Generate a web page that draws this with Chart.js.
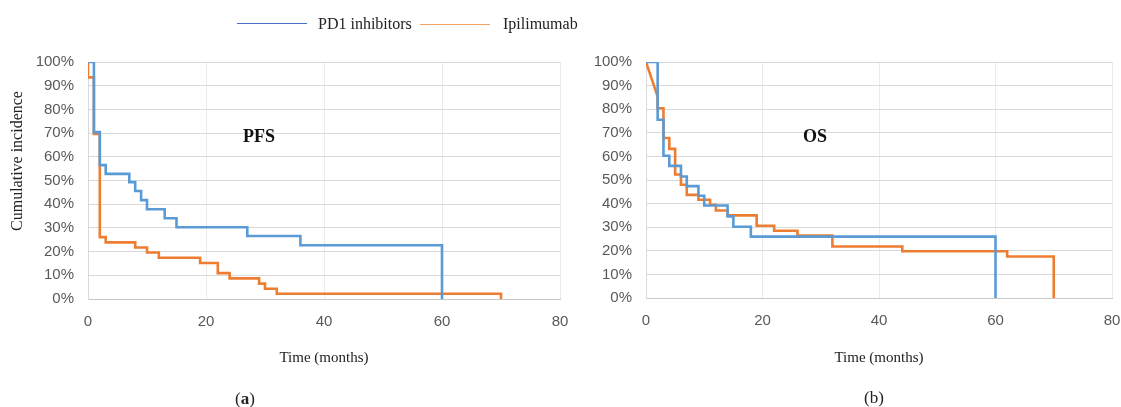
<!DOCTYPE html>
<html>
<head>
<meta charset="utf-8">
<script src="https://cdn.jsdelivr.net/npm/chart.js@4.4.1/dist/chart.umd.min.js"></script>
<style>
  body { margin: 0; background: #fff; }
  #wrap { position: relative; width: 1121px; height: 407px; overflow: hidden; font-family: 'Liberation Serif', serif; color: #222; }
  canvas { position: absolute; top: 0; }
  .txt { position: absolute; white-space: nowrap; line-height: 1; }
  .key { position: absolute; height: 0; }
</style>
</head>
<body>
<div id="wrap">
  <canvas id="pfs" width="580" height="407" style="left:0;width:580px;height:407px"></canvas>
  <canvas id="os" width="546" height="407" style="left:575px;width:546px;height:407px"></canvas>

  <div class="key" style="left:237px;top:23px;width:70px;border-top:1.5px solid #4472C4"></div>
  <div class="txt" style="left:318px;top:16px;font-size:16px">PD1 inhibitors</div>
  <div class="key" style="left:420px;top:24px;width:70px;border-top:1.5px solid #F4A261"></div>
  <div class="txt" style="left:503px;top:16px;font-size:16px">Ipilimumab</div>

  <div class="txt" style="left:235px;top:390px;font-size:17px">(<b>a</b>)</div>
  <div class="txt" style="left:864px;top:389px;font-size:17px">(b)</div>
</div>
<script>
// months / percent
const pfsPd1Time = [0, 1, 2, 3, 7, 8, 9, 10, 13, 15, 27, 36, 60];
const pfsPd1Val  = [100, 70.4, 56.5, 52.8, 49.3, 45.6, 41.7, 37.9, 34.1, 30.3, 26.6, 22.7, 0];

const pfsIpiTime = [0, 0, 1, 2, 3, 8, 10, 12, 19, 22, 24, 29, 30, 32, 70];
const pfsIpiVal  = [100, 93.5, 69.6, 26.1, 23.9, 21.7, 19.6, 17.4, 15.2, 10.9, 8.7, 6.5, 4.3, 2.2, 0];

const osPd1Time = [0, 2, 3, 4, 6, 7, 9, 10, 14, 15, 18, 60];
const osPd1Val  = [100, 75.5, 60.3, 56, 51.5, 47.4, 43.3, 39.2, 34.6, 30.2, 26, 0];

// first two points of ipilimumab OS are joined by a straight line
const osIpiTime = [0, 2, 2, 3, 4, 5, 6, 7, 9, 11, 12, 14, 19, 22, 26, 32, 44, 62, 70];
const osIpiVal  = [100, 85.3, 80.4, 67.8, 63.2, 52.3, 48, 43.7, 41.6, 39.5, 37.1, 35, 30.6, 28.5, 26.5, 21.8, 19.8, 17.6, 0];

const xTicks = [0, 20, 40, 60, 80];
const yTicks = [0, 10, 20, 30, 40, 50, 60, 70, 80, 90, 100];

const BLUE = '#5B9BD5';
const ORANGE = '#ED7D31';

function pts(t, v) {
  return t.map((x, i) => ({ x: x, y: v[i] }));
}

function line(data, color, stepped) {
  return {
    data: data,
    borderColor: color,
    backgroundColor: color,
    borderWidth: 2.6,
    pointRadius: 0,
    stepped: stepped,
    fill: false
  };
}

// text drawn on the canvas: panel label and y title
const notes = {
  id: 'notes',
  afterDraw(chart, args, opts) {
    const ctx = chart.ctx;
    const xs = chart.scales.x, ys = chart.scales.y;
    ctx.save();
    ctx.fillStyle = '#111';
    ctx.font = 'bold 18px "Liberation Serif"';
    ctx.textAlign = 'center';
    ctx.textBaseline = 'middle';
    ctx.fillText(opts.label, xs.getPixelForValue(opts.at[0]), ys.getPixelForValue(opts.at[1]));
    if (opts.yTitle) {
      ctx.translate(18, 161);
      ctx.rotate(-Math.PI / 2);
      ctx.font = '16px "Liberation Serif"';
      ctx.fillStyle = '#222';
      ctx.fillText(opts.yTitle, 0, 0);
    }
    ctx.restore();
  }
};

function makeChart(id, datasets, label, yTitle, yWidth, xHeight, padRight) {
  return new Chart(document.getElementById(id), {
    type: 'line',
    data: { datasets: datasets },
    plugins: [notes],
    options: {
      responsive: false,
      animation: false,
      layout: { padding: { top: 62, right: padRight, left: 0, bottom: 0 } },
      plugins: {
        legend: { display: false },
        tooltip: { enabled: false },
        notes: { label: label, at: [29, 68], yTitle: yTitle }
      },
      scales: {
        x: {
          type: 'linear',
          min: 0, max: 80,
          afterBuildTicks: s => { s.ticks = xTicks.map(v => ({ value: v })); },
          afterFit: s => { s.height = xHeight; s.paddingLeft = 0; s.paddingRight = 0; },
          grid: { color: '#ebebeb', drawTicks: false },
          border: { color: '#c8c8c8' },
          ticks: { color: '#595959', font: { family: 'Liberation Sans', size: 15 }, padding: 14, maxRotation: 0 },
          title: {
            display: true, text: 'Time (months)', color: '#222',
            font: { family: 'Liberation Serif', size: 15 },
            padding: { bottom: 40 }
          }
        },
        y: {
          min: 0, max: 100,
          afterBuildTicks: s => { s.ticks = yTicks.map(v => ({ value: v })); },
          afterFit: s => { s.width = yWidth; },
          grid: { color: '#d9d9d9', drawTicks: false },
          border: { color: '#d9d9d9' },
          ticks: { color: '#595959', font: { family: 'Liberation Sans', size: 15 }, padding: 14, callback: v => v + '%' }
        }
      }
    }
  });
}

makeChart('pfs', [
  line(pts(pfsPd1Time, pfsPd1Val), BLUE, true),
  line(pts(pfsIpiTime, pfsIpiVal), ORANGE, true)
], 'PFS', 'Cumulative incidence', 88, 108, 20);

makeChart('os', [
  line(pts(osPd1Time, osPd1Val), BLUE, true),
  line(pts(osIpiTime.slice(0, 2), osIpiVal.slice(0, 2)), ORANGE, false),
  line(pts(osIpiTime.slice(1), osIpiVal.slice(1)), ORANGE, true)
], 'OS', null, 71, 109, 9);
</script>
</body>
</html>
